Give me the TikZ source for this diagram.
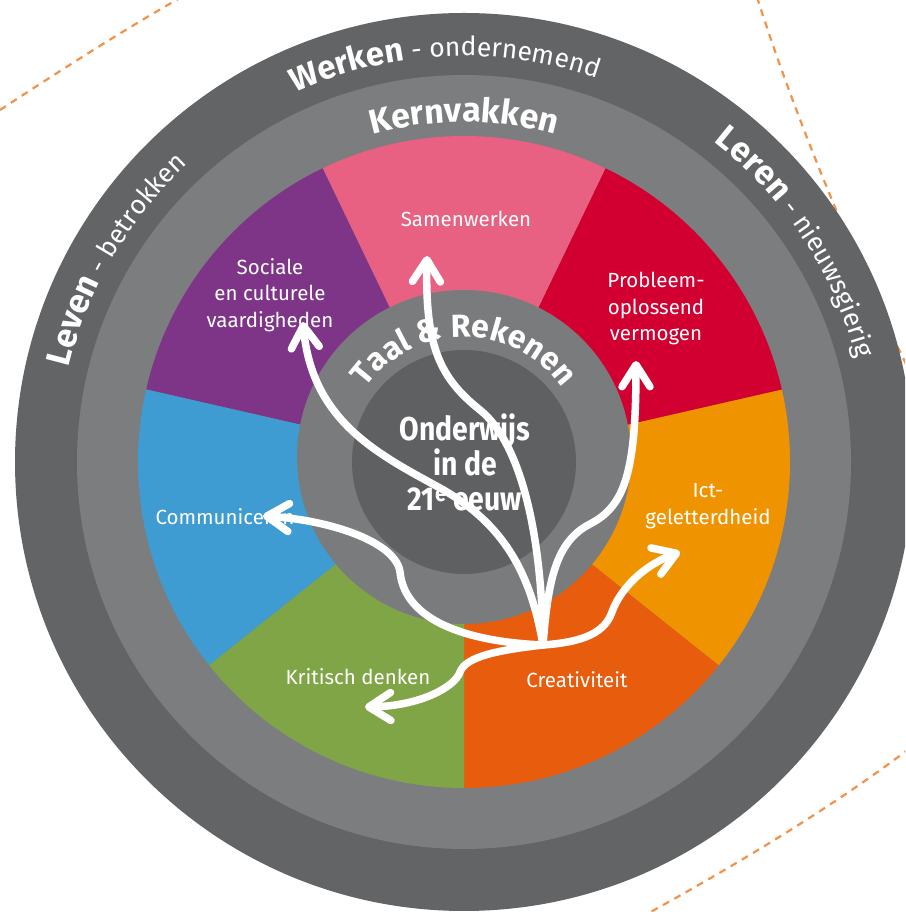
\documentclass[tikz,border=0pt]{standalone}
\usepackage{fontspec}
\setmainfont{Fira Sans}
\newfontfamily\condfont[FakeStretch=0.86]{Fira Sans}
\usetikzlibrary{decorations.text,arrows.meta}
\definecolor{outerdark}{RGB}{99,100,102}
\definecolor{ringgray}{RGB}{124,125,127}
\definecolor{innergray}{RGB}{122,123,125}
\definecolor{innerdark}{RGB}{95,96,98}
\definecolor{cCrea}{RGB}{232,92,14}
\definecolor{cIct}{RGB}{240,147,0}
\definecolor{cProb}{RGB}{209,0,49}
\definecolor{cSam}{RGB}{232,96,130}
\definecolor{cSoc}{RGB}{126,53,136}
\definecolor{cCom}{RGB}{62,156,210}
\definecolor{cKri}{RGB}{127,165,71}
\definecolor{dashorange}{RGB}{243,146,74}
\begin{document}
\begin{tikzpicture}[x=1pt,y=1pt,
  dashline/.style={draw=dashorange, line width=2.2pt, dash pattern=on 7pt off 6pt},
  lab/.style={text=white, font=\fontsize{20.5}{26.5}\selectfont, align=center, inner sep=0pt},
  arr/.style={draw=white, line width=7.5pt, line cap=round, line join=round,
    -{Straight Barb[length=22pt,width=28pt,round]},
    preaction={draw=black, draw opacity=0.28, transform canvas={xshift=1.5pt,yshift=-2.5pt}}},
  ringtext/.style={decorate, decoration={text along path, text align=center, text color=white}}
]
\useasboundingbox (0,0) rectangle (905,912);
\clip (0,0) rectangle (905,912);
\fill[white] (0,0) rectangle (905,912);
% decorative dashed curves
\draw[dashline] (0,802) .. controls (55,838) and (120,880) .. (180,914);
\draw[dashline] (757,915) .. controls (790,810) and (850,660) .. (910,540);
\draw[dashline] (910,164) .. controls (850,118) and (760,60) .. (645,-3);
% rings
\coordinate (C) at (464,450);
\coordinate (Ci) at (464,455);
\fill[outerdark] (C) circle[radius=449pt];
\fill[ringgray] (C) circle[radius=387pt];
% segments
\fill[cCrea] (C) -- ([shift={(-90:326pt)}]C) arc[start angle=-90, end angle=-38.57, radius=326pt] -- cycle;
\fill[cIct] (C) -- ([shift={(-38.57:326pt)}]C) arc[start angle=-38.57, end angle=12.86, radius=326pt] -- cycle;
\fill[cProb] (C) -- ([shift={(12.86:326pt)}]C) arc[start angle=12.86, end angle=64.29, radius=326pt] -- cycle;
\fill[cSam] (C) -- ([shift={(64.29:326pt)}]C) arc[start angle=64.29, end angle=115.71, radius=326pt] -- cycle;
\fill[cSoc] (C) -- ([shift={(115.71:326pt)}]C) arc[start angle=115.71, end angle=167.14, radius=326pt] -- cycle;
\fill[cCom] (C) -- ([shift={(167.14:326pt)}]C) arc[start angle=167.14, end angle=218.57, radius=326pt] -- cycle;
\fill[cKri] (C) -- ([shift={(218.57:326pt)}]C) arc[start angle=218.57, end angle=270, radius=326pt] -- cycle;
\fill[innergray] (Ci) circle[radius=167pt];
\fill[innerdark] (C) circle[radius=112pt];
% ring texts
\path[ringtext, decoration={text={|\bfseries\fontsize{33}{33}\selectfont|Werken|\mdseries\fontsize{26.5}{26.5}\selectfont| - ondernemend}}]
  ([shift={(182.7:406pt)}]C) arc[start angle=182.7, end angle=2.7, radius=406pt];
\path[ringtext, decoration={text={|\bfseries\fontsize{34}{34}\selectfont|Leren|\mdseries\fontsize{26.5}{26.5}\selectfont| - nieuwsgierig}}]
  ([shift={(123.4:406pt)}]C) arc[start angle=123.4, end angle=-56.6, radius=406pt];
\path[ringtext, decoration={text={|\bfseries\fontsize{34}{34}\selectfont|Leven|\mdseries\fontsize{26.5}{26.5}\selectfont| - betrokken}}]
  ([shift={(239.7:406pt)}]C) arc[start angle=239.7, end angle=59.7, radius=406pt];
\path[ringtext, decoration={text={|\bfseries\fontsize{34}{34}\selectfont|Kernvakken}}]
  ([shift={(180:340pt)}]C) arc[start angle=180, end angle=0, radius=340pt];
\path[ringtext, decoration={text={|\bfseries\fontsize{32}{32}\selectfont|Taal {\&} Rekenen}}]
  ([shift={(180:120pt)}]Ci) arc[start angle=180, end angle=0, radius=120pt];
% labels
\node[lab] (sam) at (466,693) {Samenwerken};
\node[lab] (soc) at (270,617) {Sociale\\en culturele\\vaardigheden};
\node[lab] (prob) at (656,603) {Probleem-\\oplossend\\vermogen};
\node[lab] (ict) at (708,406) {Ict-\\geletterdheid};
\node[lab] (com) at (225,395) {Communiceren};
\node[lab] (kri) at (358,235) {Kritisch denken};
\node[lab] (crea) at (577,232) {Creativiteit};
\node[text=white, align=center, inner sep=0pt, font=\condfont\bfseries\fontsize{33}{35}\selectfont] (ctr) at (465,450) {Onderwijs\\in de\\21\textsuperscript{e} eeuw};
% arrows
\coordinate (root) at (543,267);
\coordinate (tKri) at (365,205);
\coordinate (tCom) at (263,396);
\coordinate (tSoc) at (303,590);
\coordinate (tSam) at (427,656);
\coordinate (tProb) at (636,551);
\coordinate (tIct) at (680,360);
\draw[arr] (root) .. controls (500,262) and (466,256) .. (460,240) .. controls (455,225) and (420,206) .. (tKri);
\draw[arr] (root) .. controls (470,270) and (405,290) .. (400,340) .. controls (396,370) and (330,392) .. (tCom);
\draw[arr] (root) .. controls (532,330) and (510,385) .. (440,424) .. controls (380,457) and (312,490) .. (tSoc);
\draw[arr] (root) .. controls (542,380) and (520,470) .. (480,502) .. controls (440,534) and (425,565) .. (tSam);
\draw[arr] (root) .. controls (548,330) and (555,370) .. (590,388) .. controls (625,406) and (636,440) .. (tProb);
\draw[arr] (root) .. controls (585,270) and (605,280) .. (612,300) .. controls (619,320) and (640,345) .. (tIct);
\end{tikzpicture}
\end{document}
